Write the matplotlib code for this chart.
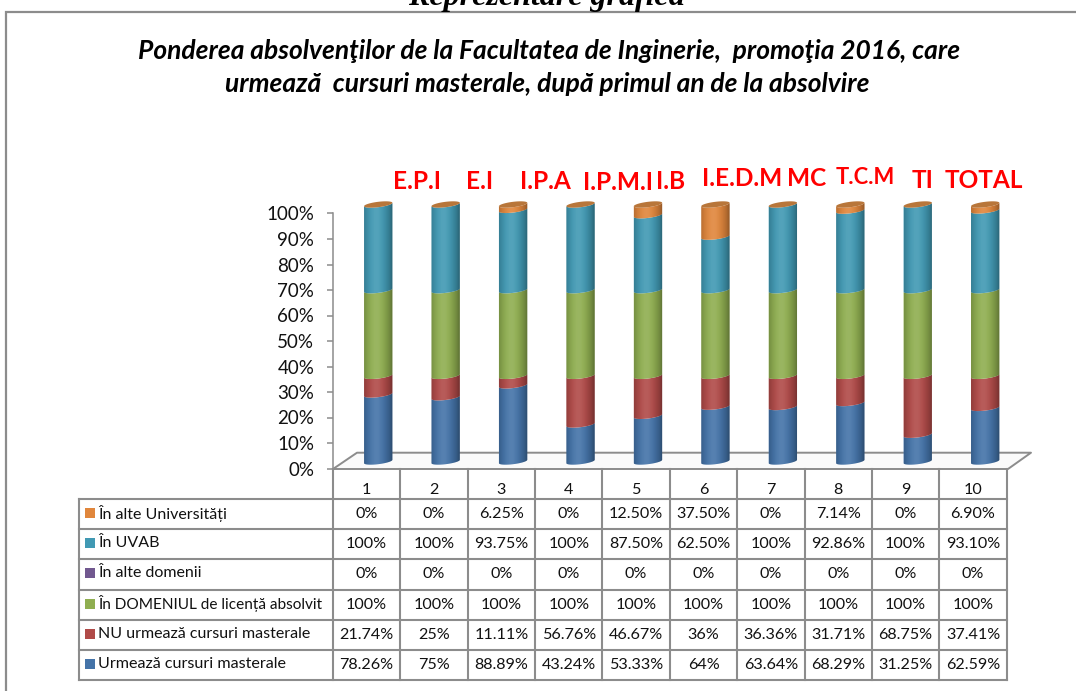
import numpy as np
import matplotlib
matplotlib.use("Agg")
import matplotlib.pyplot as plt
from matplotlib.path import Path
from matplotlib.patches import PathPatch, Rectangle

plt.rcParams['font.family'] = ['Lato', 'Noto Sans', 'DejaVu Sans']

W, H, DPI = 1076, 691, 100

categories = ['1', '2', '3', '4', '5', '6', '7', '8', '9', '10']
alte_univ = ['0%', '0%', '6.25%', '0%', '12.50%', '37.50%', '0%', '7.14%', '0%', '6.90%']
uvab = ['100%', '100%', '93.75%', '100%', '87.50%', '62.50%', '100%', '92.86%', '100%', '93.10%']
alte_dom = ['0%'] * 10
domeniu = ['100%'] * 10
nu_urmeaza = ['21.74%', '25%', '11.11%', '56.76%', '46.67%', '36%', '36.36%', '31.71%', '68.75%', '37.41%']
urmeaza = ['78.26%', '75%', '88.89%', '43.24%', '53.33%', '64%', '63.64%', '68.29%', '31.25%', '62.59%']
names = ['În alte Universități', 'În UVAB', 'În alte domenii',
         'În DOMENIUL de licență absolvit', 'NU urmează cursuri masterale',
         'Urmează cursuri masterale']
name_sizes = [11.5, 11.5, 11.5, 11.1, 11.5, 11.6]
colors = ['#E0863C', '#4199B3', '#71588F', '#8FAE50', '#B04A48', '#4473A8']
rows = [alte_univ, uvab, alte_dom, domeniu, nu_urmeaza, urmeaza]
yticks = [0, 10, 20, 30, 40, 50, 60, 70, 80, 90, 100]
red_labels = [('E.P.I', 417, 181, 17.6), ('E.I', 480, 181, 17.6), ('I.P.A', 545, 181, 17.6),
              ('I.P.M.I', 618, 182, 17.6), ('I.B', 671, 181, 17.6), ('I.E.D.M', 742, 178, 17.6),
              ('MC', 807, 178, 17.6), ('T.C.M', 865, 177, 15.8), ('TI', 923, 180, 17.6),
              ('TOTAL', 984, 180, 17.6)]

GRAY = '#8c8c8c'
fig = plt.figure(figsize=(W / DPI, H / DPI), dpi=DPI, facecolor='white')


def axes_px(x0, x1, ytop, ybot, **kw):
    return fig.add_axes([x0 / W, 1 - ybot / H, (x1 - x0) / W, (ybot - ytop) / H], **kw)


# canvas in pixel units: frame, floor, table
bg = axes_px(0, W, 0, H)
bg.set_xlim(0, W)
bg.set_ylim(H, 0)
bg.axis('off')

bg.text(546, 5, 'Reprezentare grafică', family='Liberation Serif', style='italic',
        weight='bold', fontsize=23, ha='center', va='baseline', color='black')
bg.fill([0, W, W, 0], [12, 12, H, H], color='white', lw=0, zorder=1.5)
bg.plot([6, 6, W + 5], [H + 5, 12, 12], color=GRAY, lw=1.6, solid_joinstyle='miter', zorder=2)

title_font = dict(style='italic', weight='bold', fontsize=19, ha='center',
                  va='baseline', color='black', zorder=3)
bg.text(549, 59, 'Ponderea absolvenţilor de la Facultatea de Inginerie,  promoţia 2016, care', **title_font)
bg.text(547, 92, 'urmează  cursuri masterale, după primul an de la absolvire', **title_font)

for label, x, y, size in red_labels:
    bg.text(x, y, label, color='#FF0000', weight='bold', fontsize=size, ha='center', va='center', zorder=3)

# floor
bg.fill([333, 357, 1031, 1008], [469, 452.7, 452.7, 469], color='#fafafa', lw=0, zorder=2)
bg.plot([333, 357, 1031, 1008, 333], [469, 452.7, 452.7, 469, 469], color=GRAY, lw=1.4, zorder=2)

# table
col0, col1, step = 79, 333, 67.37
row_y = [499 + 30.17 * i for i in range(7)]
hdr_top = 469
n = len(categories)
for i in range(n + 1):
    x = col1 + step * i
    bg.plot([x, x], [hdr_top, row_y[-1]], color=GRAY, lw=1.5, solid_capstyle='projecting', zorder=2)
for y in row_y:
    bg.plot([col0, col1 + step * n], [y, y], color=GRAY, lw=1.5, solid_capstyle='projecting', zorder=2)
bg.plot([col0, col0], [row_y[0], row_y[-1]], color=GRAY, lw=1.5, solid_capstyle='projecting', zorder=2)
CELL = 11.6
for i, c in enumerate(categories):
    bg.text(col1 + step * (i + .5), 489.5, c, fontsize=CELL, ha='center', va='center', color='#111111', zorder=3)
for r, (name, size, col, vals) in enumerate(zip(names, name_sizes, colors, rows)):
    yc = (row_y[r] + row_y[r + 1]) / 2
    bg.add_patch(Rectangle((85, yc - 6), 10, 10, color=col, lw=0, zorder=3))
    bg.text(98.5, yc - 1, name, fontsize=size, ha='left', va='center', color='#111111', zorder=3)
    for i, v in enumerate(vals):
        bg.text(col1 + step * (i + .5), yc, v, fontsize=CELL, ha='center', va='center', color='#111111', zorder=3)

# value axis
axy = axes_px(333, 334, 213.5, 468.5, facecolor='none')
axy.set_ylim(0, 100)
axy.set_xticks([])
axy.set_yticks(yticks)
axy.set_yticklabels([f'{t}%' for t in yticks], fontsize=13.5, color='#111111')
axy.tick_params(axis='y', length=4.5, width=1.1, color=GRAY, pad=9)
for s in ['top', 'right', 'bottom']:
    axy.spines[s].set_visible(False)
axy.spines['left'].set_color(GRAY)
axy.spines['left'].set_linewidth(1.1)

# cylinders: the axes extends 6 units beyond 0-100 so the curved ends show
PAD = 6
PX_PER_UNIT = (461.5 - 204.5) / 100
ax = axes_px(344.5, 1018.9, 204.5 - PAD * PX_PER_UNIT, 461.5 + PAD * PX_PER_UNIT, facecolor='none')
ax.axis('off')
HALF_W, ELL_H, TILT = 0.21, 1.05, 0.66
t = np.linspace(0, np.pi, 40)
u = np.linspace(-1, 1, 64)
shade = np.zeros((1, 64, 4))
shade[0, :, 3] = np.clip(0.36 * (np.abs(u + 0.15) / 1.15) ** 2.4, 0, 0.6)
shade_hi = np.ones((1, 64, 4))
shade_hi[0, :, 3] = 0.10 * np.exp(-((u + 0.15) / 0.45) ** 2)


def arc(cx, y):
    return cx + HALF_W * np.cos(t), y - ELL_H * np.sin(t) + TILT * np.cos(t)


def segment(cx, y0, y1, color):
    xb, yb = arc(cx, y0)
    xt, yt = arc(cx, y1)
    xs = np.r_[xb[::-1], xt]
    ys = np.r_[yb[::-1], yt]
    patch = PathPatch(Path(np.c_[xs, ys]), facecolor=color, edgecolor='none', lw=0, zorder=2)
    ax.add_patch(patch)
    for img in (shade_hi, shade):
        im = ax.imshow(img, extent=(cx - HALF_W, cx + HALF_W, y0 - 3, y1 + 3),
                       aspect='auto', interpolation='bilinear', zorder=3)
        im.set_clip_path(patch)


def cap(cx, y):
    tt = np.linspace(0, 2 * np.pi, 80)
    xs = cx + HALF_W * np.cos(tt)
    ys = y - ELL_H * np.sin(tt) + TILT * np.cos(tt)
    ax.fill(xs, ys, color='#B8763A', lw=0, zorder=4)


values = np.array([[float(v.rstrip('%')) for v in row] for row in rows])
order = [5, 4, 3, 2, 1, 0]
totals = values.sum(axis=0)
for i in range(n):
    cx = i + 1
    base = 0.0
    for s in order:
        h = values[s, i] / totals[i] * 100
        if h > 0:
            segment(cx, base, base + h, colors[s])
        base += h
    cap(cx, base)
ax.set_xlim(0.5, n + 0.5)
ax.set_ylim(-PAD, 100 + PAD)

fig.savefig('out.png', dpi=DPI)
